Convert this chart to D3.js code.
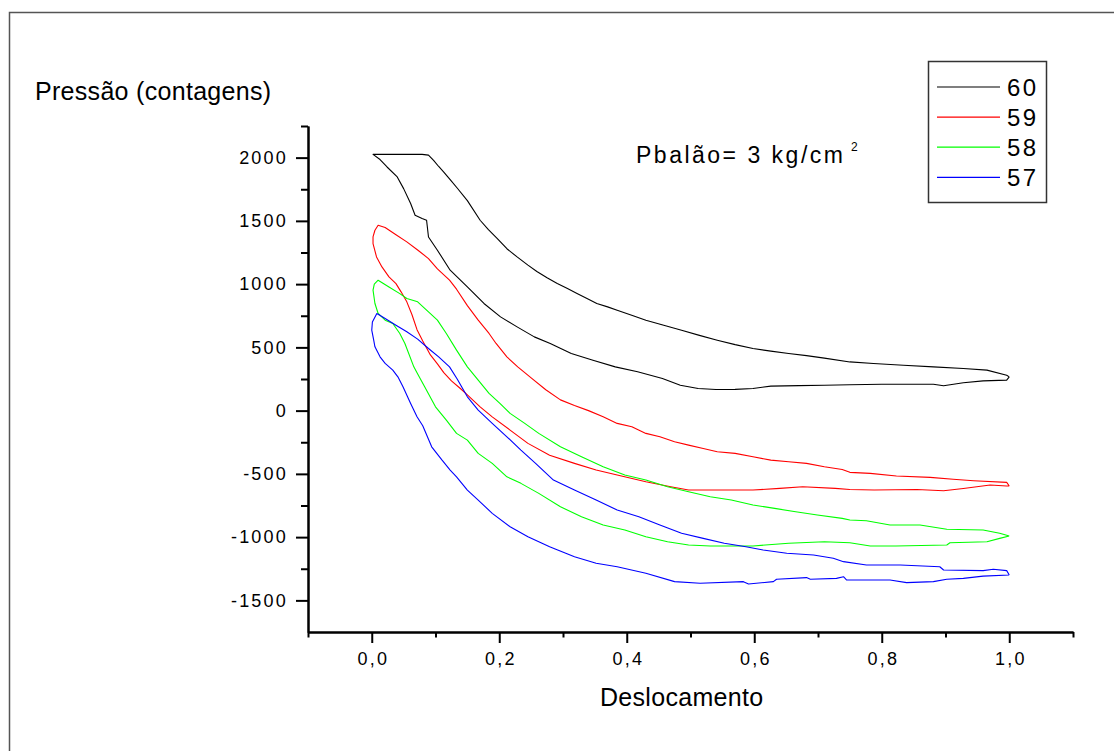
<!DOCTYPE html>
<html>
<head>
<meta charset="utf-8">
<script src="https://cdn.jsdelivr.net/npm/d3@7"></script>
<style>
  body { margin: 0; background: #fff; }
  text { font-family: "Liberation Sans", Arial, sans-serif; fill: #000; }
</style>
</head>
<body>
<div id="chart"></div>
<script>
// series names (legend order)
const seriesNames = ["60", "59", "58", "57"];

// each loop: upper branch and lower branch, [deslocamento, pressao]
const up60 = [[0.002,2026],[0.040,2026],[0.079,2026],[0.089,2020],[0.097,1979],[0.105,1930],[0.113,1886],[0.124,1820],
  [0.134,1760],[0.150,1660],[0.170,1505],[0.183,1430],[0.197,1360],[0.212,1280],[0.228,1215],[0.245,1150],[0.259,1100],
  [0.275,1050],[0.291,1005],[0.307,965],[0.322,926],[0.340,880],[0.353,847],[0.370,820],[0.385,794],[0.410,750],
  [0.430,715],[0.458,675],[0.486,636],[0.514,595],[0.542,557],[0.570,522],[0.598,491],[0.626,470],[0.654,452],
  [0.682,435],[0.710,415],[0.750,385],[0.787,373],[0.834,359],[0.881,346],[0.928,333],[0.965,320],[0.996,280],[1.0,267]];
const lo60 = [[0.002,2026],[0.013,1985],[0.024,1926],[0.040,1847],[0.050,1755],[0.061,1637],[0.068,1544],[0.079,1518],
  [0.086,1505],[0.089,1373],[0.103,1268],[0.123,1110],[0.150,978],[0.176,847],[0.202,741],[0.228,662],[0.255,583],
  [0.280,531],[0.313,452],[0.347,399],[0.382,346],[0.417,307],[0.456,254],[0.484,201],[0.512,175],[0.540,167],
  [0.570,168],[0.598,175],[0.626,194],[0.670,198],[0.710,201],[0.750,205],[0.800,209],[0.881,209],[0.897,196],
  [0.928,220],[0.959,235],[0.996,241],[1.0,267]];

const up59 = [[0.002,1373],[0.005,1426],[0.010,1465],[0.021,1447],[0.038,1390],[0.055,1334],[0.072,1270],[0.089,1202],
  [0.103,1120],[0.122,1031],[0.133,960],[0.150,830],[0.167,715],[0.184,610],[0.195,531],[0.212,425],[0.229,346],
  [0.251,255],[0.273,165],[0.296,85],[0.318,40],[0.340,0],[0.363,-49],[0.385,-101],[0.408,-128],[0.430,-180],
  [0.452,-207],[0.475,-246],[0.497,-273],[0.520,-299],[0.542,-325],[0.570,-338],[0.598,-365],[0.626,-391],
  [0.654,-404],[0.682,-417],[0.710,-444],[0.738,-465],[0.750,-488],[0.782,-496],[0.823,-517],[0.876,-528],
  [0.912,-543],[0.944,-554],[0.996,-567],[1.0,-596]];
const lo59 = [[0.002,1373],[0.002,1320],[0.0075,1215],[0.016,1136],[0.027,1057],[0.038,1004],[0.046,939],[0.055,860],
  [0.063,760],[0.071,640],[0.080,550],[0.092,440],[0.103,370],[0.113,300],[0.125,235],[0.139,175],[0.150,125],
  [0.170,30],[0.189,-49],[0.217,-154],[0.245,-259],[0.279,-352],[0.318,-417],[0.352,-470],[0.385,-509],[0.430,-562],
  [0.469,-602],[0.497,-628],[0.542,-628],[0.598,-628],[0.640,-615],[0.676,-602],[0.727,-615],[0.750,-623],
  [0.788,-628],[0.855,-623],[0.897,-633],[0.928,-615],[0.970,-588],[0.996,-596],[1.0,-596]];

const up58 = [[0.002,952],[0.004,1000],[0.010,1031],[0.027,978],[0.044,925],[0.055,886],[0.072,860],[0.089,781],
  [0.103,715],[0.117,610],[0.133,478],[0.150,346],[0.167,241],[0.184,136],[0.201,57],[0.217,-22],[0.240,-101],
  [0.262,-180],[0.296,-286],[0.329,-365],[0.363,-444],[0.397,-509],[0.430,-549],[0.464,-602],[0.497,-641],
  [0.531,-681],[0.564,-707],[0.598,-746],[0.632,-773],[0.665,-799],[0.699,-825],[0.738,-852],[0.750,-865],
  [0.776,-870],[0.813,-904],[0.860,-904],[0.902,-938],[0.959,-944],[0.985,-970],[1.0,-991]];
const lo58 = [[0.002,952],[0.005,847],[0.010,768],[0.021,715],[0.033,689],[0.044,610],[0.052,531],[0.066,346],
  [0.071,300],[0.083,188],[0.100,30],[0.117,-75],[0.133,-180],[0.150,-233],[0.167,-338],[0.189,-417],[0.212,-523],
  [0.234,-575],[0.262,-654],[0.296,-760],[0.329,-839],[0.363,-904],[0.397,-944],[0.430,-997],[0.464,-1036],
  [0.497,-1062],[0.531,-1070],[0.598,-1070],[0.654,-1049],[0.710,-1036],[0.750,-1044],[0.782,-1070],[0.822,-1070],
  [0.902,-1062],[0.907,-1044],[0.965,-1036],[0.985,-1010],[1.0,-991]];

const up57 = [[0.001,700],[0.008,768],[0.021,728],[0.038,675],[0.055,623],[0.072,565],[0.089,491],[0.105,425],
  [0.122,346],[0.134,250],[0.150,109],[0.167,4],[0.189,-101],[0.212,-207],[0.234,-312],[0.257,-417],[0.285,-549],
  [0.318,-628],[0.352,-707],[0.385,-786],[0.419,-839],[0.452,-904],[0.486,-970],[0.520,-1010],[0.553,-1049],
  [0.587,-1076],[0.614,-1102],[0.651,-1128],[0.693,-1141],[0.724,-1167],[0.740,-1194],[0.776,-1220],[0.829,-1220],
  [0.891,-1234],[0.897,-1260],[0.959,-1265],[0.975,-1254],[0.996,-1265],[1.0,-1299]];
const lo57 = [[0.001,700],[0.000,636],[0.003,560],[0.005,504],[0.013,425],[0.021,373],[0.033,320],[0.041,267],
  [0.049,188],[0.061,57],[0.071,-49],[0.080,-120],[0.094,-286],[0.110,-390],[0.123,-470],[0.133,-523],[0.150,-628],
  [0.167,-707],[0.189,-812],[0.217,-918],[0.245,-997],[0.279,-1076],[0.318,-1155],[0.352,-1207],[0.385,-1234],
  [0.430,-1286],[0.475,-1352],[0.515,-1365],[0.583,-1352],[0.591,-1370],[0.630,-1352],[0.635,-1333],[0.682,-1320],
  [0.688,-1333],[0.729,-1326],[0.740,-1313],[0.745,-1339],[0.813,-1339],[0.839,-1360],[0.881,-1352],[0.902,-1333],
  [0.928,-1326],[0.959,-1308],[1.0,-1299]];

// ticks
const xMajor = [0, 0.2, 0.4, 0.6, 0.8, 1.0];
const xLabels = ["0,0", "0,2", "0,4", "0,6", "0,8", "1,0"];
const xMinor = [-0.1, 0.1, 0.3, 0.5, 0.7, 0.9, 1.1];
const yMajor = [-1500, -1000, -500, 0, 500, 1000, 1500, 2000];
const yLabels = ["-1500", "-1000", "-500", "0", "500", "1000", "1500", "2000"];
const yMinor = [-1250, -750, -250, 250, 750, 1250, 1750, 2250];

const loops = [
  {name: "60", up: up60, lo: lo60},
  {name: "59", up: up59, lo: lo59},
  {name: "58", up: up58, lo: lo58},
  {name: "57", up: up57, lo: lo57}
];
const colors = {"60": "#000000", "59": "#ff0000", "58": "#00ff00", "57": "#0000ff"};

let width = 1114, height = 751;
let svg = d3.select("#chart").append("svg")
    .attr("width", width)
    .attr("height", height);

// page frame (only top and left edge fall inside the picture)
svg.append("rect")
    .attr("x", 9.5).attr("y", 12.5)
    .attr("width", 1300).attr("height", 900)
    .attr("fill", "none")
    .attr("stroke", "#555")
    .attr("stroke-width", 1.5);

let x = d3.scaleLinear().domain([-0.1, 1.1]).range([308, 1073]);
let y = d3.scaleLinear().domain([-1750, 2250]).range([632, 126]);

const ls = 2.2; // origin style letter spacing

function styleAxis(g) {
    g.attr("font-size", 18).attr("font-family", "'Liberation Sans', Arial, sans-serif");
    g.select(".domain").attr("stroke", "#000").attr("stroke-width", 2);
    g.selectAll(".tick line").attr("stroke", "#000").attr("stroke-width", 2);
    g.selectAll(".tick text").attr("letter-spacing", ls);
}

// minor ticks
svg.append("g")
    .attr("transform", "translate(0,632)")
    .call(d3.axisBottom(x).tickValues(xMinor).tickSize(5.5).tickSizeOuter(0).tickFormat(""))
    .call(styleAxis);
svg.append("g")
    .attr("transform", "translate(308,0)")
    .call(d3.axisLeft(y).tickValues(yMinor).tickSize(7).tickSizeOuter(0).tickFormat(""))
    .call(styleAxis);

// major ticks + labels
let xAxis = svg.append("g")
    .attr("transform", "translate(0,632)")
    .call(d3.axisBottom(x).tickValues(xMajor).tickSize(11).tickSizeOuter(0)
        .tickFormat((d, i) => xLabels[i]))
    .call(styleAxis);
xAxis.selectAll(".tick text").attr("y", 32.5).attr("dy", 0).attr("x", ls / 2);

let yAxis = svg.append("g")
    .attr("transform", "translate(308,0)")
    .call(d3.axisLeft(y).tickValues(yMajor).tickSize(12).tickSizeOuter(0)
        .tickFormat((d, i) => yLabels[i]))
    .call(styleAxis);
yAxis.selectAll(".tick text").attr("x", -20);

// loops
let line = d3.line()
    .x(d => x(d[0]))
    .y(d => y(d[1]));

svg.append("g").selectAll("path")
    .data(loops)
    .join("path")
    .attr("fill", "none")
    .attr("stroke", d => colors[d.name])
    .attr("stroke-width", 1.1)
    .attr("stroke-linejoin", "round")
    .attr("d", d => line(d.up.slice().reverse().concat(d.lo)));

// axis titles
svg.append("text")
    .attr("x", 35).attr("y", 100)
    .attr("font-size", 25)
    .attr("letter-spacing", 0.3)
    .text("Pressão (contagens)");
svg.append("text")
    .attr("x", 600).attr("y", 706)
    .attr("font-size", 25)
    .attr("letter-spacing", 0.3)
    .text("Deslocamento");

// annotation
svg.append("text")
    .attr("x", 636).attr("y", 163.3)
    .attr("font-size", 23)
    .attr("letter-spacing", 2.5)
    .text("Pbalão= 3 kg/cm");
svg.append("text")
    .attr("x", 851).attr("y", 151)
    .attr("font-size", 12)
    .text("2");

// legend
let legend = svg.append("g");
legend.append("rect")
    .attr("x", 928.5).attr("y", 61.5)
    .attr("width", 118).attr("height", 141)
    .attr("fill", "#fff")
    .attr("stroke", "#333")
    .attr("stroke-width", 1.5);
let rowY = d3.scalePoint().domain(seriesNames).range([87, 177.3]);
seriesNames.forEach(function(n) {
    legend.append("line")
        .attr("x1", 937).attr("x2", 1000)
        .attr("y1", rowY(n)).attr("y2", rowY(n))
        .attr("stroke", colors[n])
        .attr("stroke-width", 1.2);
    legend.append("text")
        .attr("x", 1007).attr("y", rowY(n) + 8.7)
        .attr("font-size", 24)
        .attr("letter-spacing", 2.5)
        .text(n);
});
</script>
</body>
</html>
